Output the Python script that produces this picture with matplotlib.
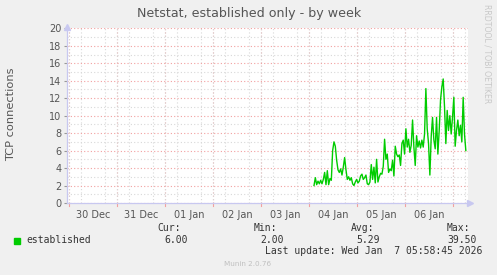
import matplotlib
matplotlib.use("Agg")
import matplotlib.pyplot as plt
import matplotlib.dates as mdates
import pandas as pd
import numpy as np

# ---- data ----
title = "Netstat, established only - by week"
ylabel = "TCP connections"
series_name = "established"
start_time = "2026-01-04 02:20"
end_time = "2026-01-07 06:15"
values = [
    2.0, 2.9, 2.1, 2.5, 2.2, 2.6, 2.2, 2.7, 3.5, 2.1, 3.7, 2.1, 2.8, 2.6,
    6.0, 7.0, 6.5, 4.9, 3.8, 3.5, 3.9, 3.2, 4.1, 5.2, 3.8, 2.7, 3.0, 2.6,
    2.9, 2.2, 2.0, 2.4, 2.7, 2.3, 2.5, 3.1, 3.3, 2.7, 2.9, 3.2, 2.2, 2.1,
    2.4, 4.4, 2.7, 4.1, 2.3, 5.0, 2.4, 3.0, 3.4, 3.3, 4.2, 7.3, 5.0, 5.6,
    3.5, 3.9, 3.7, 4.9, 3.1, 6.5, 5.6, 5.3, 5.5, 4.3, 6.8, 7.2, 5.6, 8.5,
    6.4, 7.3, 5.8, 6.6, 9.5, 6.4, 4.3, 7.7, 6.4, 7.1, 6.3, 7.2, 6.4, 7.9,
    13.1, 8.5, 6.8, 3.2, 7.6, 9.8, 7.2, 6.2, 9.8, 5.6, 8.3, 11.8, 13.3,
    14.2, 11.0, 6.8, 10.6, 8.3, 10.0, 7.9, 9.8, 12.1, 6.5, 8.3, 9.5, 7.7,
    8.9, 7.0, 12.1, 7.9, 6.0,
]
day_labels_start = "2025-12-30"
n_days = 8
x_start = "2025-12-29 22:50"
x_end = "2026-01-07 07:05"
y_max = 20
legend_heads = ["Cur:", "Min:", "Avg:", "Max:"]
legend_vals = ["6.00", "2.00", "5.29", "39.50"]
last_update = "Last update: Wed Jan  7 05:58:45 2026"
footer = "Munin 2.0.76"
side_text = "RRDTOOL / TOBI OETIKER"

times = pd.date_range(start_time, end_time, periods=len(values))

W, H = 497, 275
fig = plt.figure(figsize=(W / 100, H / 100), dpi=100)
fig.patch.set_facecolor("#F0F0F0")
ax = fig.add_axes([67 / W, 1 - 203 / H, (467.5 - 67) / W, (203 - 28.3) / H])
ax.set_facecolor("white")

txt_col = "#555555"
ax.set_xlim(pd.Timestamp(x_start), pd.Timestamp(x_end))
ax.set_ylim(0, y_max)

# grids
ax.yaxis.set_major_locator(matplotlib.ticker.MultipleLocator(2))
ax.yaxis.set_minor_locator(matplotlib.ticker.MultipleLocator(1))
ax.xaxis.set_minor_locator(mdates.HourLocator(byhour=[0, 6, 12, 18]))
ax.xaxis.set_major_locator(mdates.HourLocator(byhour=[12]))
ax.xaxis.set_major_formatter(mdates.DateFormatter("%d %b"))
ax.grid(which="minor", axis="both", color="#D8D8D8", linestyle=(0, (1, 2)), linewidth=0.8)
ax.grid(which="major", axis="y", color="#F2A0A0", linestyle=(0, (1, 2)), linewidth=0.8)
midnights = pd.date_range(day_labels_start, periods=n_days + 1, freq="D")
for m in midnights:
    ax.axvline(m, color="#F2A0A0", linestyle=(0, (1, 2)), linewidth=0.8, zorder=1.5)
    ax.plot([m, m], [0, -0.35], color="#F2A0A0", lw=0.8, clip_on=False)

ax.plot(times, values, color="#00CC00", linewidth=1.0, zorder=3)

for s in ["top", "right"]:
    ax.spines[s].set_visible(False)
for s in ["left", "bottom"]:
    ax.spines[s].set_color("#C8C8F0")
    ax.spines[s].set_linewidth(0.9)
ax.plot([0], [1.005], marker="^", color="#C8C8F0", markersize=4, transform=ax.transAxes, clip_on=False)
ax.plot([1.005], [0], marker=">", color="#C8C8F0", markersize=4, transform=ax.transAxes, clip_on=False)

ax.tick_params(axis="x", which="major", length=0, pad=5, labelsize=7, labelcolor=txt_col)
ax.tick_params(axis="x", which="minor", length=0)
ax.tick_params(axis="y", which="major", length=2, width=0.8, color="#999999", pad=2, labelsize=7, labelcolor=txt_col)
ax.tick_params(axis="y", which="minor", length=0)
ax.set_yticks(np.arange(0, y_max + 1, 2))

fig.text(11 / W, 1 - 114 / H, ylabel, rotation=90, ha="center", va="center", fontsize=8.2, color=txt_col)
fig.text(249 / W, 1 - 13 / H, title, ha="center", va="center", fontsize=9.1, color=txt_col)
fig.text(487 / W, 1 - 54 / H, side_text, rotation=270, ha="center", va="center", fontsize=5.6, color="#C8C8C8")

mono = "DejaVu Sans Mono"
fig.add_artist(plt.Rectangle((14 / W, 1 - 244 / H), 6 / W, 6 / H, color="#00CC00", transform=fig.transFigure))
fig.text(26 / W, 1 - 240 / H, series_name, fontsize=7, family=mono, color="#333333", va="center")
head_x = [181, 277, 374, 470]
val_x = [188, 284, 380, 477]
for hx, vx, hd, vl in zip(head_x, val_x, legend_heads, legend_vals):
    fig.text(hx / W, 1 - 228 / H, hd, fontsize=7, family=mono, color="#333333", ha="right", va="center")
    fig.text(vx / W, 1 - 240 / H, vl, fontsize=7, family=mono, color="#333333", ha="right", va="center")
fig.text(482 / W, 1 - 251 / H, last_update, fontsize=7, family=mono, color="#333333", ha="right", va="center")
fig.text(248 / W, 1 - 264 / H, footer, fontsize=5.2, color="#C0C0C0", ha="center", va="center")

fig.savefig("out.png", dpi=100, facecolor=fig.get_facecolor())
